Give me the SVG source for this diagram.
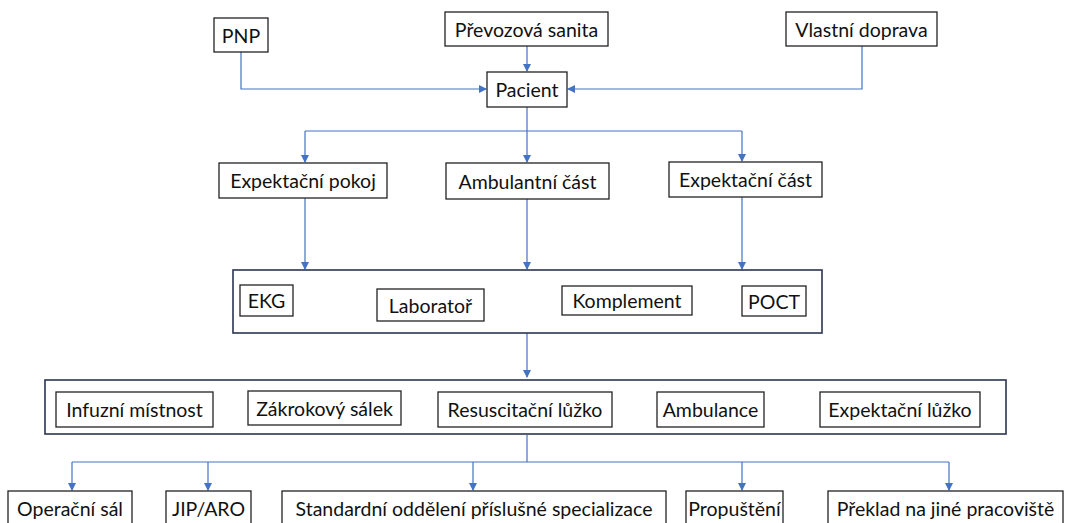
<svg xmlns="http://www.w3.org/2000/svg" width="1070" height="523" viewBox="0 0 1070 523">
<style>
.b{fill:#fff;stroke:#222;stroke-width:1.3}
.g{fill:#fff;stroke:#2a3550;stroke-width:1.6}
.t{font-family:Lato,"Open Sans",sans-serif;font-size:19.5px;fill:#111;text-anchor:middle;dominant-baseline:central}
.c{fill:none;stroke:#4472C4;stroke-width:1.2}
</style>
<defs>
<marker id="a" markerWidth="8" markerHeight="8" refX="7" refY="4" orient="auto" markerUnits="userSpaceOnUse"><path d="M0,0 L8,4 L0,8 z" fill="#4472C4"/></marker>
</defs>
<rect width="1070" height="523" fill="#fff"/>
<g id="connectors">
<path class="c" d="M241,52 V89 H486" marker-end="url(#a)"/>
<path class="c" d="M527,46 V71" marker-end="url(#a)"/>
<path class="c" d="M862,46 V89 H568" marker-end="url(#a)"/>
<path class="c" d="M527,107 V131"/>
<path class="c" d="M305,131 H742"/>
<path class="c" d="M305,131 V162" marker-end="url(#a)"/>
<path class="c" d="M527,131 V162" marker-end="url(#a)"/>
<path class="c" d="M742,131 V161" marker-end="url(#a)"/>
<path class="c" d="M305,198 V269" marker-end="url(#a)"/>
<path class="c" d="M527,199 V269" marker-end="url(#a)"/>
<path class="c" d="M742,197 V269" marker-end="url(#a)"/>
<path class="c" d="M527,333 V377" marker-end="url(#a)"/>
<path class="c" d="M527,435 V462"/>
<path class="c" d="M72,462 H949"/>
<path class="c" d="M72,462 V490" marker-end="url(#a)"/>
<path class="c" d="M208,462 V490" marker-end="url(#a)"/>
<path class="c" d="M473,462 V490" marker-end="url(#a)"/>
<path class="c" d="M742,462 V490" marker-end="url(#a)"/>
<path class="c" d="M949,462 V490" marker-end="url(#a)"/>
</g>
<g id="pnp"><rect class="b" x="214" y="18" width="54" height="34"/><text class="t" x="241" y="35">PNP</text></g>
<g id="sanita"><rect class="b" x="445" y="12" width="163" height="34"/><text class="t" x="526.5" y="29">Převozová sanita</text></g>
<g id="vlastni"><rect class="b" x="786" y="12" width="151" height="34"/><text class="t" x="861.5" y="29">Vlastní doprava</text></g>
<g id="pacient"><rect class="b" x="487" y="72" width="80" height="35"/><text class="t" x="527" y="89.5">Pacient</text></g>
<g id="exp-pokoj"><rect class="b" x="219" y="163" width="168" height="35"/><text class="t" x="303" y="180.5">Expektační pokoj</text></g>
<g id="amb-cast"><rect class="b" x="446" y="163" width="163" height="36"/><text class="t" x="527.5" y="181">Ambulantní část</text></g>
<g id="exp-cast"><rect class="b" x="669" y="162" width="153" height="35"/><text class="t" x="745.5" y="179.5">Expektační část</text></g>
<g id="diag"><rect class="g" x="233" y="270" width="589" height="63"/>
<g id="ekg"><rect class="b" x="240" y="285" width="53" height="31"/><text class="t" x="266.5" y="300.5">EKG</text></g>
<g id="lab"><rect class="b" x="377" y="289" width="107" height="32"/><text class="t" x="430.5" y="305">Laboratoř</text></g>
<g id="kompl"><rect class="b" x="562" y="286" width="130" height="29"/><text class="t" x="627" y="300.5">Komplement</text></g>
<g id="poct"><rect class="b" x="742" y="286" width="64" height="30"/><text class="t" x="774" y="301">POCT</text></g>
</g>
<g id="treat"><rect class="g" x="45" y="380" width="961" height="54"/>
<g id="infuz"><rect class="b" x="56" y="392" width="157" height="35"/><text class="t" x="134.5" y="409.5">Infuzní místnost</text></g>
<g id="zakrok"><rect class="b" x="248" y="391" width="153" height="34"/><text class="t" x="324.5" y="408">Zákrokový sálek</text></g>
<g id="resus"><rect class="b" x="438" y="392" width="174" height="35"/><text class="t" x="525" y="409.5">Resuscitační lůžko</text></g>
<g id="ambul"><rect class="b" x="657" y="392" width="107" height="35"/><text class="t" x="710.5" y="409.5">Ambulance</text></g>
<g id="exp-luzko"><rect class="b" x="820" y="392" width="160" height="35"/><text class="t" x="900" y="409.5">Expektační lůžko</text></g>
</g>
<g id="operacni"><rect class="b" x="8" y="491" width="124" height="40"/><text class="t" x="70" y="508">Operační sál</text></g>
<g id="jip"><rect class="b" x="166" y="491" width="85" height="40"/><text class="t" x="208.5" y="508">JIP/ARO</text></g>
<g id="standard"><rect class="b" x="282" y="491" width="384" height="40"/><text class="t" x="474" y="508">Standardní oddělení příslušné specializace</text></g>
<g id="propusteni"><rect class="b" x="686" y="491" width="97" height="40"/><text class="t" x="734.5" y="508">Propuštění</text></g>
<g id="preklad"><rect class="b" x="828" y="491" width="235" height="40"/><text class="t" x="945.5" y="508">Překlad na jiné pracoviště</text></g>
</svg>
